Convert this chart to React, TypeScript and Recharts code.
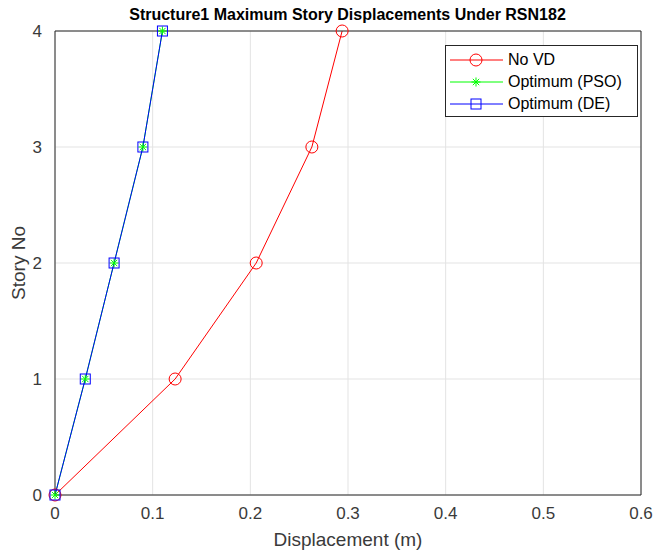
import React from 'react';
import { CartesianGrid, Line, LineChart, XAxis, YAxis } from 'recharts';

// Story displacements (metres per story level)
const stories = [0, 1, 2, 3, 4];
const noVD = [0, 0.123, 0.206, 0.263, 0.294];
const pso = [0, 0.031, 0.0605, 0.09, 0.11];
const de = [0, 0.031, 0.0605, 0.09, 0.11];
const xTicks = [0, 0.1, 0.2, 0.3, 0.4, 0.5, 0.6];
const yTicks = [0, 1, 2, 3, 4];

const toPoints = (vals: number[]) => vals.map((x, i) => ({ x, story: stories[i] }));

const FONT = '"Liberation Sans", Arial, Helvetica, sans-serif';
const AXIS = '#262626';
const TICK = '#3a3a3a';
const GRID = '#e3e3e3';

const Circle = (p: any) => (
  <circle cx={p.cx} cy={p.cy} r={6} fill="none" stroke="#ff0000" strokeWidth={1} />
);
const Star = (p: any) => {
  const r = 4.5;
  const d = r * 0.7071;
  return (
    <g stroke="#00ff00" strokeWidth={1}>
      <line x1={p.cx - r} y1={p.cy} x2={p.cx + r} y2={p.cy} />
      <line x1={p.cx} y1={p.cy - r} x2={p.cx} y2={p.cy + r} />
      <line x1={p.cx - d} y1={p.cy - d} x2={p.cx + d} y2={p.cy + d} />
      <line x1={p.cx - d} y1={p.cy + d} x2={p.cx + d} y2={p.cy - d} />
    </g>
  );
};
const Square = (p: any) => (
  <rect x={p.cx - 5} y={p.cy - 5} width={10} height={10} fill="none" stroke="#0000ff" strokeWidth={1} />
);

const legendItems = [
  { name: 'No VD', color: '#ff0000', Marker: Circle },
  { name: 'Optimum (PSO)', color: '#00ff00', Marker: Star },
  { name: 'Optimum (DE)', color: '#0000ff', Marker: Square },
];

const LegendBox = () => (
  <div
    style={{
      position: 'absolute',
      left: 445,
      top: 45,
      width: 193,
      height: 72,
      border: '1px solid #262626',
      background: '#fff',
      fontFamily: FONT,
      fontSize: 16,
      color: '#000',
      boxSizing: 'border-box',
      paddingTop: 3,
    }}
  >
    {legendItems.map(({ name, color, Marker }) => (
      <div key={name} style={{ display: 'flex', alignItems: 'center', height: 22 }}>
        <svg width={62} height={22} style={{ display: 'block' }}>
          <line x1={4} y1={11} x2={57} y2={11} stroke={color} strokeWidth={1} />
          <Marker cx={30} cy={11} />
        </svg>
        <span>{name}</span>
      </div>
    ))}
  </div>
);

const noTick = () => '';

export default function App() {
  return (
    <div style={{ position: 'absolute', left: 0, top: 0, width: 657, height: 554, background: '#fff' }}>
      <div
        style={{
          position: 'absolute',
          left: 55,
          width: 585,
          top: 6,
          textAlign: 'center',
          fontFamily: FONT,
          fontWeight: 'bold',
          fontSize: 16,
          color: '#000',
        }}
      >
        Structure1 Maximum Story Displacements Under RSN182
      </div>
      <LineChart width={657} height={554} margin={{ top: 31, right: 16, bottom: 0, left: 0 }}>
        <CartesianGrid xAxisId="main" yAxisId="main" stroke={GRID} />
        <XAxis
          xAxisId="in"
          type="number"
          dataKey="x"
          domain={[0, 0.6]}
          ticks={xTicks}
          height={1}
          mirror
          tickFormatter={noTick}
          tickSize={5}
          stroke={AXIS}
          axisLine={false}
        />
        <XAxis
          xAxisId="main"
          type="number"
          dataKey="x"
          domain={[0, 0.6]}
          ticks={xTicks}
          height={59}
          tickLine={false}
          tickMargin={6}
          tickFormatter={(v: number) => String(v)}
          tick={{ fill: TICK, fontSize: 17, fontFamily: FONT }}
          stroke={AXIS}
          label={{ value: 'Displacement (m)', position: 'insideBottom', offset: 8, fill: TICK, fontSize: 19, fontFamily: FONT }}
        />
        <XAxis
          xAxisId="top"
          orientation="top"
          type="number"
          dataKey="x"
          domain={[0, 0.6]}
          ticks={xTicks}
          height={1}
          mirror
          tickFormatter={noTick}
          tickSize={5}
          stroke={AXIS}
        />
        <YAxis
          yAxisId="in"
          type="number"
          dataKey="story"
          domain={[0, 4]}
          ticks={yTicks}
          width={1}
          mirror
          tickFormatter={noTick}
          tickSize={5}
          stroke={AXIS}
          axisLine={false}
        />
        <YAxis
          yAxisId="main"
          type="number"
          dataKey="story"
          domain={[0, 4]}
          ticks={yTicks}
          width={55}
          tickLine={false}
          tickMargin={7}
          tick={{ fill: TICK, fontSize: 17, fontFamily: FONT }}
          stroke={AXIS}
          label={{ value: 'Story No', angle: -90, position: 'insideLeft', offset: 18, fill: TICK, fontSize: 19, fontFamily: FONT, style: { textAnchor: 'middle' } }}
        />
        <YAxis
          yAxisId="right"
          orientation="right"
          type="number"
          dataKey="story"
          domain={[0, 4]}
          ticks={yTicks}
          width={1}
          mirror
          tickFormatter={noTick}
          tickSize={5}
          stroke={AXIS}
        />
        <Line
          xAxisId="main"
          yAxisId="main"
          data={toPoints(noVD)}
          dataKey="story"
          name="No VD"
          type="linear"
          stroke="#ff0000"
          strokeWidth={1}
          dot={<Circle />}
          activeDot={false}
          isAnimationActive={false}
        />
        <Line
          xAxisId="main"
          yAxisId="main"
          data={toPoints(pso)}
          dataKey="story"
          name="Optimum (PSO)"
          type="linear"
          stroke="#00ff00"
          strokeWidth={1}
          dot={<Star />}
          activeDot={false}
          isAnimationActive={false}
        />
        <Line
          xAxisId="main"
          yAxisId="main"
          data={toPoints(de)}
          dataKey="story"
          name="Optimum (DE)"
          type="linear"
          stroke="#0000ff"
          strokeWidth={1}
          dot={<Square />}
          activeDot={false}
          isAnimationActive={false}
        />
      </LineChart>
      <LegendBox />
    </div>
  );
}
